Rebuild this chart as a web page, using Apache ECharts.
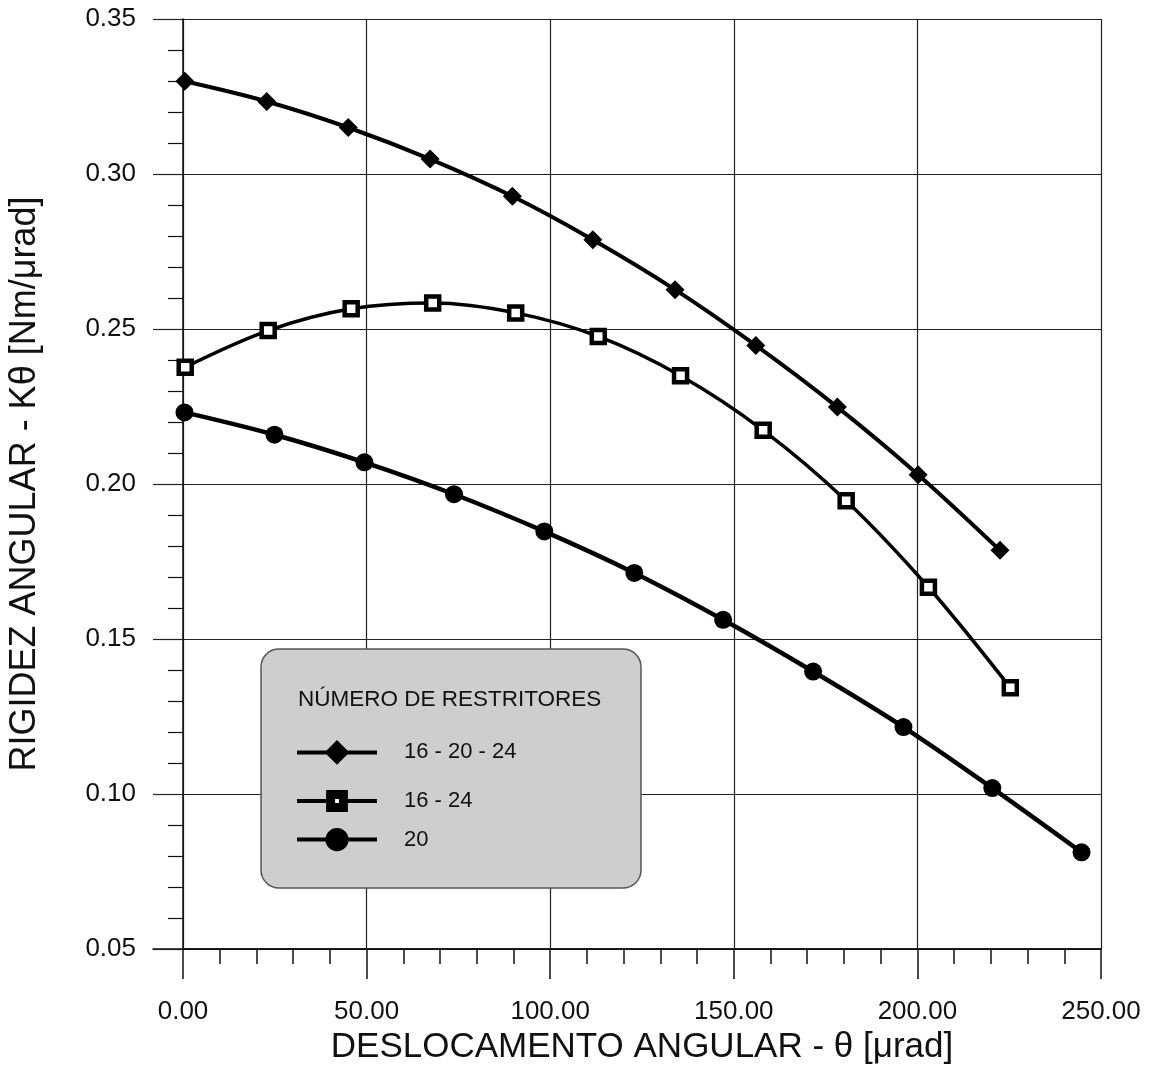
<!DOCTYPE html>
<html>
<head>
<meta charset="utf-8">
<script src="https://cdn.jsdelivr.net/npm/echarts@6/dist/echarts.min.js"></script>
<style>
html,body{margin:0;padding:0;background:#fff;}
#chart{width:1152px;height:1067px;}
</style>
</head>
<body>
<div id="chart"></div>
<script>
// ---- data ----
const seriesNames = ['16 - 20 - 24', '16 - 24', '20'];
const thetaA = [0.5, 22.8, 45.0, 67.3, 89.7, 111.6, 134.0, 156.0, 178.2, 200.2, 222.5];
const kA     = [0.3299, 0.3234, 0.3150, 0.3048, 0.2928, 0.2788, 0.2627, 0.2447, 0.2248, 0.2030, 0.1786];
const thetaB = [0.6, 23.2, 45.8, 68.0, 90.6, 113.1, 135.5, 158.0, 180.6, 203.0, 225.3];
const kB     = [0.2377, 0.2495, 0.2565, 0.2584, 0.2552, 0.2476, 0.2349, 0.2173, 0.1946, 0.1667, 0.1343];
const thetaC = [0.4, 24.9, 49.4, 73.8, 98.4, 122.9, 147.1, 171.6, 196.2, 220.4, 244.7];
const kC     = [0.2231, 0.2159, 0.2070, 0.1967, 0.1847, 0.1713, 0.1562, 0.1395, 0.1216, 0.1019, 0.0812];
const xTickLabels = ['0.00', '50.00', '100.00', '150.00', '200.00', '250.00'];
const yTickLabels = ['0.05', '0.10', '0.15', '0.20', '0.25', '0.30', '0.35'];
const xTitle = 'DESLOCAMENTO ANGULAR - \u03B8 [\u03BCrad]';
const yTitle = 'RIGIDEZ ANGULAR - K\u03B8 [Nm/\u03BCrad]';
const legendTitle = 'NÚMERO DE RESTRITORES';

const FONT = '"Liberation Sans", Arial, Helvetica, sans-serif';
const zip = (xs, ys) => xs.map((x, i) => [x, ys[i]]);

const chart = echarts.init(document.getElementById('chart'), null, {renderer: 'canvas'});

const xMin = 0, xMax = 250, xStep = 50;
const yMin = 0.05, yMax = 0.35, yStep = 0.05;

const legendTops = [740, 790, 828];
const legendItemH = [31, 16, 29];

const option = {
  animation: false,
  backgroundColor: '#ffffff',
  textStyle: {fontFamily: FONT},
  grid: [
    {left: 183, right: 51, top: 19, bottom: 118, outerBoundsMode: 'none', containLabel: false},
    {left: 153, right: 51, top: 19, bottom: 118, outerBoundsMode: 'none', containLabel: false}
  ],
  xAxis: [
    {
      type: 'value', gridIndex: 0, min: xMin, max: xMax, interval: xStep,
      axisLine: {show: true, lineStyle: {color: '#111', width: 1.5}},
      axisTick: {show: true, inside: false, length: 30, lineStyle: {color: '#111', width: 1.5}},
      minorTick: {show: true, splitNumber: 5, length: 15, lineStyle: {color: '#111', width: 1.5}},
      splitLine: {show: true, lineStyle: {color: '#222', width: 1.2}},
      axisLabel: {
        show: true, margin: 50, fontSize: 26, color: '#111', fontFamily: FONT,
        formatter: v => { const i = xTickLabels.findIndex(t => Math.abs(parseFloat(t) - v) < 1e-6); return i >= 0 ? xTickLabels[i] : ''; }
      },
      name: xTitle, nameLocation: 'middle', nameGap: 81,
      nameTextStyle: {fontSize: 35, color: '#111', fontFamily: FONT}
    },
    {
      type: 'value', gridIndex: 1, min: 0, max: 1,
      axisLine: {show: true, lineStyle: {color: '#111', width: 1.5}},
      axisTick: {show: false}, axisLabel: {show: false}, splitLine: {show: false}
    }
  ],
  yAxis: [
    {
      type: 'value', gridIndex: 0, min: yMin, max: yMax, interval: yStep,
      axisLine: {show: true, lineStyle: {color: '#111', width: 1.5}},
      axisTick: {show: true, inside: false, length: 30, lineStyle: {color: '#222', width: 1.2}},
      minorTick: {show: true, splitNumber: 5, length: 15, lineStyle: {color: '#111', width: 1.2}},
      splitLine: {show: false},
      axisLabel: {
        show: true, margin: 47, fontSize: 26, color: '#111', fontFamily: FONT,
        formatter: v => { const i = yTickLabels.findIndex(t => Math.abs(parseFloat(t) - v) < 1e-9); return i >= 0 ? yTickLabels[i] : ''; }
      },
      name: yTitle, nameLocation: 'middle', nameGap: 140, nameRotate: 90,
      nameTextStyle: {fontSize: 36, color: '#111', fontFamily: FONT}
    },
    {
      type: 'value', gridIndex: 1, min: yMin, max: yMax, interval: yStep,
      axisLine: {show: false}, axisTick: {show: false}, axisLabel: {show: false},
      splitLine: {show: true, lineStyle: {color: '#222', width: 1.2}}
    }
  ],
  graphic: [
    {
      type: 'rect', z: 20, silent: true,
      shape: {x: 261, y: 649, width: 380, height: 239, r: 18},
      style: {fill: '#cecece', stroke: '#555', lineWidth: 1.5}
    },
    {
      type: 'text', z: 21, silent: true, x: 298, y: 700,
      style: {text: legendTitle, fontSize: 22.5, fontFamily: FONT, fill: '#111', verticalAlign: 'middle', align: 'left'}
    }
  ],
  legend: seriesNames.map((n, i) => ({
    data: [n], orient: 'vertical', left: 295, top: legendTops[i], padding: 0,
    itemWidth: 80, itemHeight: legendItemH[i], z: 30, selectedMode: false,
    lineStyle: {width: 4},
    itemStyle: i === 1 ? {borderWidth: 9} : {},
    textStyle: {fontSize: 22, color: '#111', fontFamily: FONT, padding: [0, 0, 0, 22]}
  })),
  series: [
    {
      name: seriesNames[0], type: 'line', xAxisIndex: 0, yAxisIndex: 0,
      data: zip(thetaA, kA), smooth: 0.35,
      symbol: 'diamond', symbolSize: 19,
      lineStyle: {color: '#000', width: 4},
      itemStyle: {color: '#000', borderWidth: 0}
    },
    {
      name: seriesNames[1], type: 'line', xAxisIndex: 0, yAxisIndex: 0,
      data: zip(thetaB, kB), smooth: 0.35,
      symbol: 'rect', symbolSize: 13,
      lineStyle: {color: '#000', width: 3.5},
      itemStyle: {color: '#fff', borderColor: '#000', borderWidth: 4.5}
    },
    {
      name: seriesNames[2], type: 'line', xAxisIndex: 0, yAxisIndex: 0,
      data: zip(thetaC, kC), smooth: 0.35,
      symbol: 'circle', symbolSize: 18,
      lineStyle: {color: '#000', width: 4.5},
      itemStyle: {color: '#000', borderWidth: 0}
    }
  ]
};
chart.setOption(option);
</script>
</body>
</html>
